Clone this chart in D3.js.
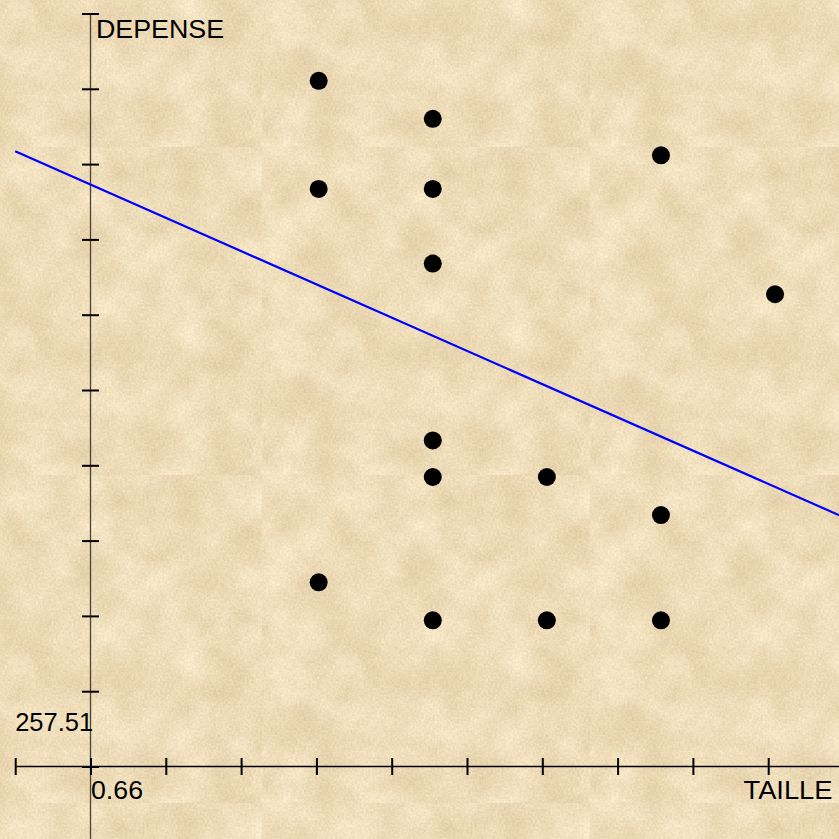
<!DOCTYPE html>
<html>
<head>
<meta charset="utf-8">
<script src="https://cdn.jsdelivr.net/npm/d3@7"></script>
<style>
  html, body { margin: 0; padding: 0; background: #eddbb7; }
  svg { display: block; }
  text { font-family: "Liberation Sans", Arial, sans-serif; font-size: 26px; fill: #000; }
</style>
</head>
<body>
<svg id="chart" width="839" height="839"></svg>
<script>
// Household size (TAILLE) and spending (DEPENSE)
const taille  = [2, 2, 2, 3, 3, 3, 3, 3, 3, 4, 4, 5, 5, 5, 6];
const depense = [2345, 1975, 630, 2215, 1975, 1720, 1115, 990, 500, 990, 500, 2090, 860, 500, 1615];

// Fitted line DEPENSE = a + b * TAILLE
const fitIntercept = 1990;
const fitSlope = -172.3;

// Axis graduation steps and their labels
const xStep = 0.66;
const yStep = 257.51;
const xStepLabel = "0.66";
const yStepLabel = "257.51";
const xAxisTitle = "TAILLE";
const yAxisTitle = "DEPENSE";
const xTickIndex = d3.range(-1, 10);   // graduations -1 .. 9
const yTickIndex = d3.range(0, 11);    // graduations 0 .. 10

const W = 839, H = 839;
const originX = 90.5, originY = 766.5, tickPx = 75.3;

const svg = d3.select("#chart");
const defs = svg.append("defs");

// Parchment texture, tiled
const f = defs.append("filter").attr("id", "paper")
  .attr("x", 0).attr("y", 0).attr("width", 1).attr("height", 1)
  .attr("color-interpolation-filters", "sRGB");
f.append("feTurbulence").attr("type", "fractalNoise")
  .attr("baseFrequency", 0.022).attr("numOctaves", 4).attr("seed", 7).attr("result", "n1");
f.append("feColorMatrix").attr("in", "n1").attr("type", "matrix")
  .attr("values", "0.13 0 0 0 0.87  0.16 0 0 0 0.785  0.20 0 0 0 0.625  0 0 0 0 1")
  .attr("result", "c1");
f.append("feTurbulence").attr("type", "fractalNoise")
  .attr("baseFrequency", 0.45).attr("numOctaves", 2).attr("seed", 3).attr("result", "n2");
f.append("feColorMatrix").attr("in", "n2").attr("type", "matrix")
  .attr("values", "1 0 0 0 0  1 0 0 0 0  1 0 0 0 0  0 0 0 0 1")
  .attr("result", "g2");
f.append("feComposite").attr("in", "c1").attr("in2", "g2").attr("operator", "arithmetic")
  .attr("k1", 0).attr("k2", 1).attr("k3", 0.12).attr("k4", -0.06);

const tile = 328;
const pat = defs.append("pattern").attr("id", "parchment")
  .attr("patternUnits", "userSpaceOnUse")
  .attr("x", 262).attr("y", 147).attr("width", tile).attr("height", tile);
pat.append("rect").attr("width", tile).attr("height", tile)
  .attr("fill", "#eddbb7").attr("filter", "url(#paper)");

svg.append("rect").attr("width", W).attr("height", H).attr("fill", "url(#parchment)");

// Scales
const x = d3.scaleLinear().domain([-xStep, 9 * xStep])
  .range([originX - tickPx, originX + 9 * tickPx]);
const y = d3.scaleLinear().domain([0, 10 * yStep])
  .range([originY, originY - 10 * tickPx]);

// Axis lines
svg.append("line")
  .attr("x1", originX).attr("x2", originX)
  .attr("y1", y(10 * yStep)).attr("y2", H)
  .attr("stroke", "#4a4438").attr("stroke-width", 1.3);
svg.append("line")
  .attr("x1", x(-xStep)).attr("x2", W)
  .attr("y1", originY).attr("y2", originY)
  .attr("stroke", "#000").attr("stroke-width", 1.3);

// Graduations (crossing the axis lines)
const xAxis = d3.axisBottom(x)
  .tickValues(xTickIndex.map(i => i * xStep))
  .tickFormat("").tickSizeOuter(0).tickSize(17);
const gx = svg.append("g").attr("transform", `translate(0,${originY - 8.5})`).call(xAxis);
gx.select(".domain").remove();
gx.selectAll(".tick line").attr("stroke", "#000").attr("stroke-width", 2);

const yAxis = d3.axisRight(y)
  .tickValues(yTickIndex.map(i => i * yStep))
  .tickFormat("").tickSizeOuter(0).tickSize(17);
const gy = svg.append("g").attr("transform", `translate(${originX - 8.5},0)`).call(yAxis);
gy.select(".domain").remove();
gy.selectAll(".tick line").attr("stroke", "#000").attr("stroke-width", 2);

// Fitted line
const lineX = [x.domain()[0], x.invert(W + 5)];
svg.append("path")
  .datum(lineX)
  .attr("d", d3.line().x(d => x(d)).y(d => y(fitIntercept + fitSlope * d)))
  .attr("fill", "none").attr("stroke", "#0000ff").attr("stroke-width", 2.2);

// Observations
svg.append("g").selectAll("circle")
  .data(taille.map((t, i) => ({ t, d: depense[i] })))
  .join("circle")
  .attr("cx", p => x(p.t)).attr("cy", p => y(p.d)).attr("r", 9)
  .attr("fill", "#000");

// Labels
svg.append("text").attr("x", originX + 5.5).attr("y", 37.5)
  .attr("textLength", 128).attr("lengthAdjust", "spacingAndGlyphs").text(yAxisTitle);
svg.append("text").attr("x", x(-xStep)).attr("y", 730.7)
  .attr("textLength", 78).attr("lengthAdjust", "spacingAndGlyphs").text(yStepLabel);
svg.append("text").attr("x", originX + 0.5).attr("y", 799)
  .attr("textLength", 52).attr("lengthAdjust", "spacingAndGlyphs").text(xStepLabel);
svg.append("text").attr("x", 743.5).attr("y", 798.5)
  .attr("textLength", 89).attr("lengthAdjust", "spacingAndGlyphs").text(xAxisTitle);
</script>
</body>
</html>
